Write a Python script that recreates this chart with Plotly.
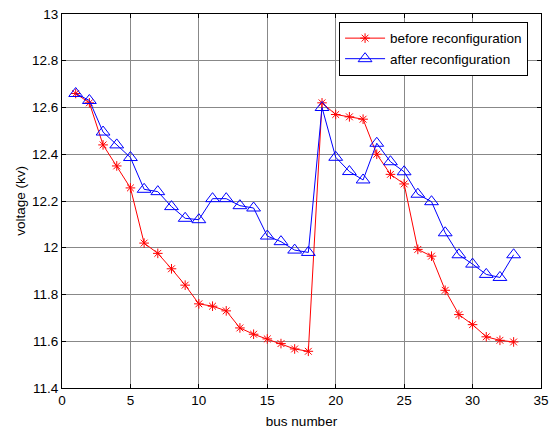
import plotly.graph_objects as go

bus = list(range(1, 34))
before = [12.66, 12.62, 12.44, 12.35, 12.256, 12.02, 11.976, 11.91, 11.84, 11.76,
          11.75, 11.73, 11.657, 11.63, 11.61, 11.59, 11.567, 11.557, 12.62, 12.57,
          12.56, 12.55, 12.40, 12.314, 12.273, 11.993, 11.964, 11.818, 11.714, 11.671,
          11.619, 11.604, 11.597]
after = [12.66, 12.63, 12.495, 12.44, 12.386, 12.25, 12.24, 12.176, 12.126, 12.12,
         12.21, 12.21, 12.18, 12.17, 12.05, 12.026, 11.99, 11.98, 12.60, 12.387,
         12.326, 12.29, 12.447, 12.368, 12.325, 12.229, 12.197, 12.064, 11.97, 11.93,
         11.886, 11.873, 11.97]

x_ticks = [0, 5, 10, 15, 20, 25, 30, 35]
y_ticks = [11.4, 11.6, 11.8, 12, 12.2, 12.4, 12.6, 12.8, 13]
y_labels = ["11.4", "11.6", "11.8", "12", "12.2", "12.4", "12.6", "12.8", "13"]

FONT = "Liberation Sans, Arial"
FS = 13.5

fig = go.Figure()
fig.add_trace(go.Scatter(
    x=bus, y=before, mode="lines+markers", name="before reconfiguration",
    line=dict(color="red", width=1),
    marker=dict(symbol="asterisk-open", size=8, color="red",
                line=dict(color="red", width=1)),
))
fig.add_trace(go.Scatter(
    x=bus, y=after, mode="lines+markers", name="after reconfiguration",
    line=dict(color="blue", width=1),
    marker=dict(symbol="triangle-up-open", size=12, color="blue",
                line=dict(color="blue", width=1)),
))

axis_common = dict(
    showline=True, linecolor="black", linewidth=1, mirror="ticks",
    ticks="inside", ticklen=4, tickcolor="black",
    showgrid=True, gridcolor="#888888", gridwidth=1,
    zeroline=False, automargin=False,
    tickfont=dict(family=FONT, size=FS, color="black"),
)

fig.update_xaxes(range=[0, 35], tickvals=x_ticks,
                 title=dict(text="bus number",
                            font=dict(family=FONT, size=FS, color="black")),
                 **axis_common)
fig.update_yaxes(range=[11.4, 13], tickvals=y_ticks, ticktext=y_labels,
                 **axis_common)

fig.add_annotation(
    text="voltage (kv)", textangle=-90,
    xref="paper", yref="paper", x=-0.088, y=0.5,
    xanchor="center", yanchor="middle", showarrow=False,
    font=dict(family=FONT, size=FS, color="black"),
)

fig.update_layout(
    width=550, height=429,
    margin=dict(l=62, r=9, t=14, b=41),
    plot_bgcolor="white", paper_bgcolor="white",
    font=dict(family=FONT, size=FS, color="black"),
    legend=dict(x=0.973, y=0.979, xanchor="right", yanchor="top",
                bgcolor="white", bordercolor="black", borderwidth=1,
                font=dict(family=FONT, size=FS, color="black"),
                itemwidth=40, tracegroupgap=0),
    showlegend=True,
)

fig.write_html(
    "out.html",
    config={"displayModeBar": False},
    post_script="document.body.style.margin='0';document.body.style.overflow='hidden';",
)
